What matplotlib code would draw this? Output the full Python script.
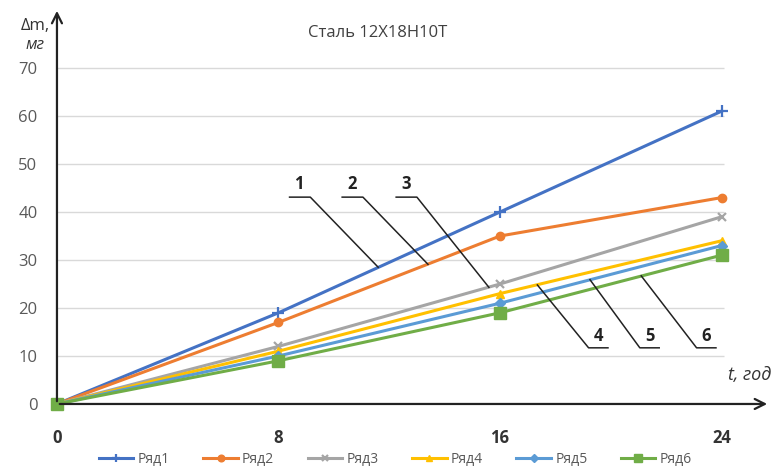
import matplotlib
matplotlib.use("Agg")
import matplotlib.pyplot as plt

# data
years = [0, 8, 16, 24]
series_names = ["Ряд1", "Ряд2", "Ряд3", "Ряд4", "Ряд5", "Ряд6"]
row1 = [0, 19, 40, 61]
row2 = [0, 17, 35, 43]
row3 = [0, 12, 25, 39]
row4 = [0, 11, 23, 34]
row5 = [0, 10, 21, 33]
row6 = [0, 9, 19, 31]
y_ticks = [0, 10, 20, 30, 40, 50, 60, 70]

colors = ["#4472C4", "#ED7D31", "#A5A5A5", "#FFC000", "#5B9BD5", "#70AD47"]
markers = ["+", "o", "x", "^", "D", "s"]
msizes = [8, 6, 6, 6, 5, 8]

plt.rcParams["font.family"] = ["Open Sans", "DejaVu Sans"]

fig = plt.figure(figsize=(7.75, 4.68), dpi=100)
ax = fig.add_axes([0.0735, 0.1368, 0.92, 0.846])
ax.set_xlim(0, 25.75)
ax.set_ylim(0, 82.5)

# grid lines only up to the last category
ax.hlines(y_ticks[1:], 0, 24.1, color="#d9d9d9", lw=1, zorder=0)

for name, vals, c, m, ms in zip(series_names, [row1, row2, row3, row4, row5, row6],
                                colors, markers, msizes):
    ax.plot(years, vals, color=c, lw=2.2, marker=m, ms=ms, mew=1.6 if m in "+x" else 1,
            label=name, zorder=3, clip_on=False)

for s in ax.spines.values():
    s.set_visible(False)
ax.annotate("", xy=(0, 1), xytext=(0, 0), xycoords="axes fraction",
            arrowprops=dict(arrowstyle="->", color="#222222", lw=1.6, mutation_scale=18), zorder=5)
ax.annotate("", xy=(1, 0), xytext=(0, 0), xycoords="axes fraction",
            arrowprops=dict(arrowstyle="->", color="#222222", lw=1.6, mutation_scale=18), zorder=5)

ax.set_xticks(years)
ax.set_xticklabels([str(v) for v in years], fontsize=12, fontweight="bold", color="#333333")
ax.set_yticks(y_ticks)
ax.set_yticklabels([str(v) for v in y_ticks], fontsize=12, color="#595959")
ax.tick_params(axis="x", length=0, pad=18)
ax.tick_params(axis="y", length=0, pad=14)

ax.set_title("Сталь 12Х18Н10Т", fontsize=12, color="#404040", x=0.45, y=0.905)
fig.text(0.045, 0.935, "Δm,", fontsize=12, color="#333333", ha="center")
fig.text(0.045, 0.895, "мг", fontsize=12, color="#333333", ha="center", style="italic")
ax.text(25.0, 5.0, "t, год", fontsize=13, color="#333333", style="italic", ha="center")

# numbered leader lines
top_labels = [("1", 8.75, 11.6, 28.5), ("2", 10.65, 13.4, 29.1), ("3", 12.6, 15.6, 24.3)]
for lab, tx, px, py in top_labels:
    ax.plot([tx - 0.35, tx + 0.4, px], [43.1, 43.1, py], color="#222222", lw=1.1, zorder=4)
    ax.text(tx, 44, lab, fontsize=12, fontweight="bold", ha="center", va="bottom", color="#222222")

bottom_labels = [("4", 19.55, 17.35, 24.8), ("5", 21.4, 19.25, 25.9), ("6", 23.45, 21.1, 26.7)]
for lab, tx, px, py in bottom_labels:
    ax.plot([px, tx - 0.35, tx + 0.35], [py, 11.7, 11.7], color="#222222", lw=1.1, zorder=4)
    ax.text(tx, 12.2, lab, fontsize=12, fontweight="bold", ha="center", va="bottom", color="#222222")

leg = fig.legend(loc="lower center", ncol=6, frameon=False, fontsize=10,
                 bbox_to_anchor=(0.51, -0.025), handlelength=2.5, columnspacing=2.4,
                 handletextpad=0.3, markerscale=0.8)
for t in leg.get_texts():
    t.set_color("#595959")

fig.savefig("out.png", dpi=100)
